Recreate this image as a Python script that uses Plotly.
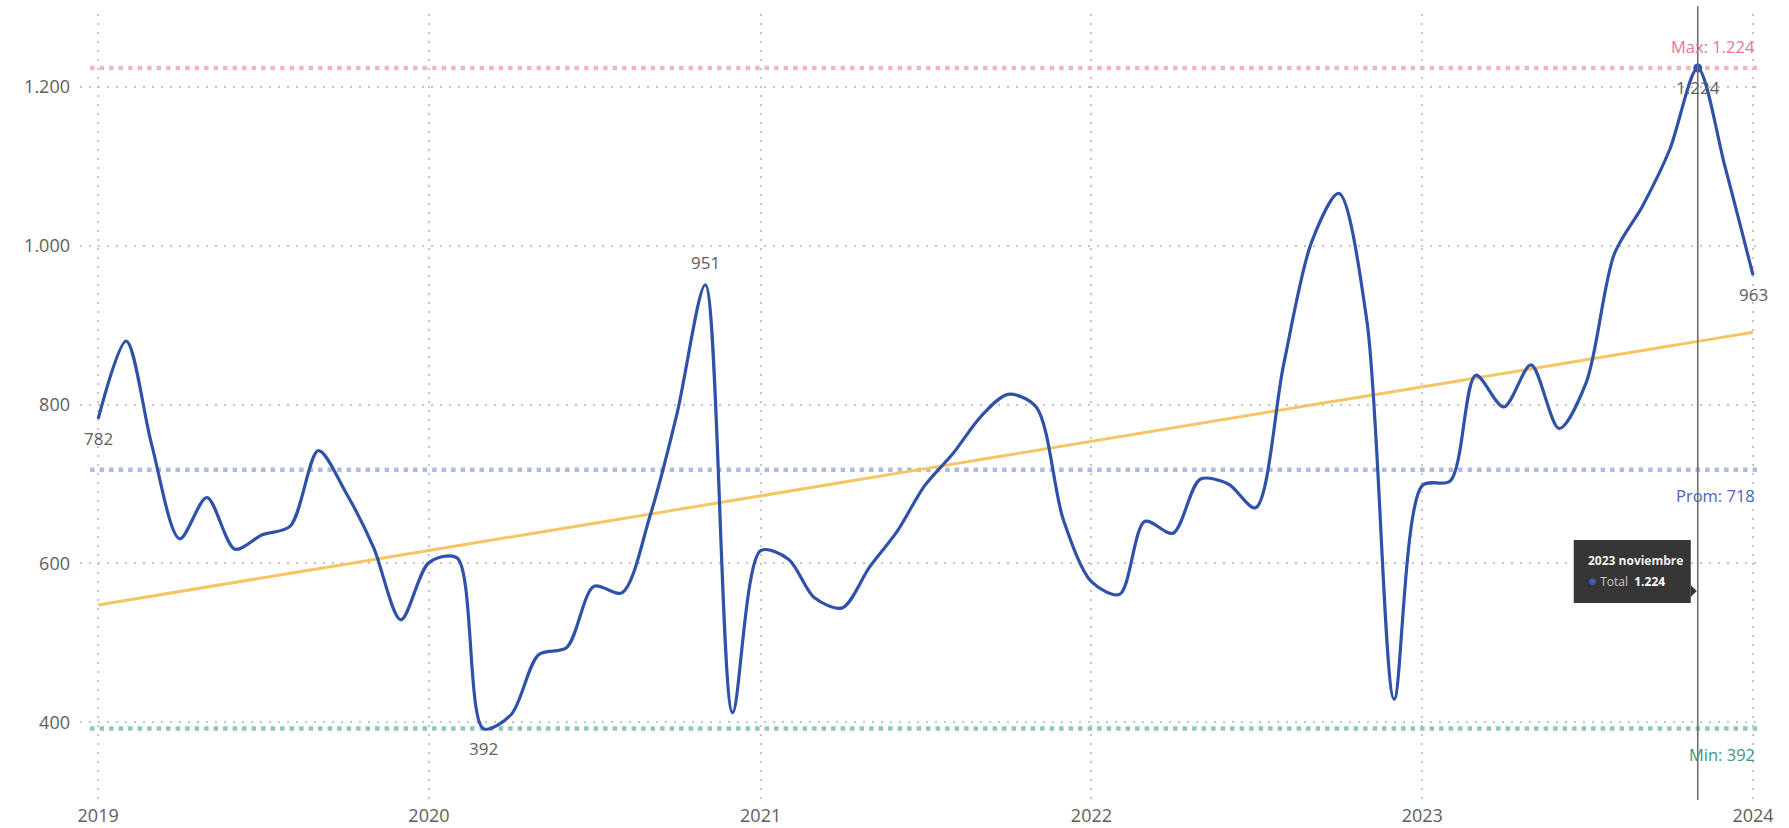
import numpy as np
import pandas as pd
import plotly.graph_objects as go

# ---- data ----
months = pd.date_range("2019-01-01", periods=61, freq="MS")
totals = [
    782, 880, 750, 631, 683, 618, 636, 647, 742, 690, 620, 529,   # 2019
    601, 607, 392, 410, 485, 494, 571, 563, 660, 790, 951, 412,   # 2020
    616, 605, 557, 544, 595, 641, 698, 738, 785, 813, 797, 655,   # 2021
    577, 561, 653, 638, 706, 700, 670, 850, 1005, 1066, 905, 429, # 2022
    698, 704, 837, 797, 850, 770, 828, 990, 1050, 1121, 1224, 1100, # 2023
    963,                                                          # 2024
]
prom_value = 718
year_ticks = ["2019-01-01", "2020-01-01", "2021-01-01", "2022-01-01", "2023-01-01", "2024-01-01"]
year_labels = ["2019", "2020", "2021", "2022", "2023", "2024"]
y_ticks = [400, 600, 800, 1000, 1200]
y_labels = ["400", "600", "800", "1.000", "1.200"]
labeled_idx = {0: ("782", "below"), 14: ("392", "below"), 22: ("951", "above"),
               58: ("1.224", "below"), 60: ("963", "below")}
hover_idx = 58
tooltip_title = "2023 noviembre"
tooltip_series = "Total"

max_value = max(totals)
min_value = min(totals)

def fmt(v):
    return f"{v:,}".replace(",", ".")

FONT = "Open Sans, Noto Sans, Arial, sans-serif"
BLUE = "#2E52A8"
GRAY_TXT = "#605E5C"

# trend (linear regression)
idx = np.arange(len(totals))
slope, intercept = np.polyfit(idx, np.array(totals, dtype=float), 1)
trend = slope * idx + intercept

fig = go.Figure()

# reference lines
ref_lines = [
    (max_value, "#F2B6C2", "#E8788A", f"Max: {fmt(max_value)}", "bottom", 8),
    (prom_value, "#AEBBE2", "#4A67B5", f"Prom: {fmt(prom_value)}", "top", -12),
    (min_value, "#90C8B8", "#3E9680", f"Min: {fmt(min_value)}", "top", -12),
]
for val, lc, tc, txt, anchor, shift in ref_lines:
    fig.add_shape(type="line", xref="paper", yref="y", x0=0.006, x1=0.9975, y0=val, y1=val,
                  line=dict(color=lc, width=4.5, dash="4.5px,5px"), layer="below")
    fig.add_annotation(xref="paper", yref="y", x=0.9964, y=val, text=txt, showarrow=False,
                       xanchor="right", yanchor=anchor, yshift=shift,
                       font=dict(family=FONT, size=16.5, color=tc))

# trend line
fig.add_trace(go.Scatter(x=months, y=trend, mode="lines",
                         line=dict(color="#F5C563", width=3), hoverinfo="skip",
                         showlegend=False))

# main series
fig.add_trace(go.Scatter(x=months, y=totals, mode="lines",
                         line=dict(color=BLUE, width=3.2, shape="spline", smoothing=0.85),
                         showlegend=False, name=tooltip_series))

# hovered point marker
fig.add_trace(go.Scatter(x=[months[hover_idx]], y=[totals[hover_idx]], mode="markers",
                         marker=dict(color=BLUE, size=9), showlegend=False, hoverinfo="skip"))

# vertical hover line
fig.add_shape(type="line", xref="x", yref="paper", x0=months[hover_idx], x1=months[hover_idx],
              y0=0.0, y1=1.01, line=dict(color="#6E6E6E", width=1.6))

# data labels
for i, (txt, pos) in labeled_idx.items():
    fig.add_annotation(x=months[i], y=totals[i], text=txt, showarrow=False,
                       yanchor="top" if pos == "below" else "bottom",
                       yshift=-6 if pos == "below" else 9,
                       font=dict(family=FONT, size=17, color=GRAY_TXT))

# tooltip (box + arrow anchored on hovered point, in pixels)
hx, hy = months[hover_idx], totals[hover_idx]
fig.add_shape(type="rect", xref="x", yref="y", xsizemode="pixel", ysizemode="pixel",
              xanchor=hx, yanchor=hy, x0=-124, x1=-7, y0=-535, y1=-472,
              fillcolor="#363636", line=dict(width=0))
fig.add_shape(type="path", xref="x", yref="y", xsizemode="pixel", ysizemode="pixel",
              xanchor=hx, yanchor=hy, path="M -7,-517 L -1,-523 L -7,-529 Z",
              fillcolor="#363636", line=dict(width=0))
fig.add_annotation(x=hx, y=hy, text=f"<b>{tooltip_title}</b>", showarrow=False,
                   xanchor="left", yanchor="middle", xshift=-112, yshift=-493,
                   font=dict(family=FONT, size=12, color="#F0F0F0"))
fig.add_annotation(x=hx, y=hy,
                   text=(f"<span style='color:#3C5FC0;font-size:15px'>●</span> "
                         f"<span style='color:#C8C8C8'>{tooltip_series}</span>  "
                         f"<b>{fmt(hy)}</b>"),
                   showarrow=False, xanchor="left", yanchor="middle", xshift=-112, yshift=-512,
                   font=dict(family=FONT, size=12, color="#FFFFFF"))

fig.update_layout(
    width=1789, height=828,
    margin=dict(l=80, r=26, t=14, b=28, autoexpand=False),
    paper_bgcolor="white", plot_bgcolor="white",
    font=dict(family=FONT, size=17, color=GRAY_TXT),
    xaxis=dict(range=["2018-12-12", "2024-01-12"], tickvals=year_ticks, ticktext=year_labels,
               showgrid=True, gridcolor="#C4C4C4", gridwidth=1.5, griddash="2px,7px",
               zeroline=False, showline=False, ticks="", automargin=False,
               ticklabelstandoff=3,
               tickfont=dict(family=FONT, size=18, color=GRAY_TXT)),
    yaxis=dict(range=[302, 1292], tickvals=y_ticks, ticktext=y_labels,
               showgrid=True, gridcolor="#C4C4C4", gridwidth=1.5, griddash="2px,7px",
               zeroline=False, showline=False, ticks="", automargin=False,
               ticklabelstandoff=9,
               tickfont=dict(family=FONT, size=18, color=GRAY_TXT)),
    hovermode=False,
)

fig.write_html("out.html", config={"displayModeBar": False},
               post_script="document.body.style.margin='0';document.body.style.overflow='hidden';")
